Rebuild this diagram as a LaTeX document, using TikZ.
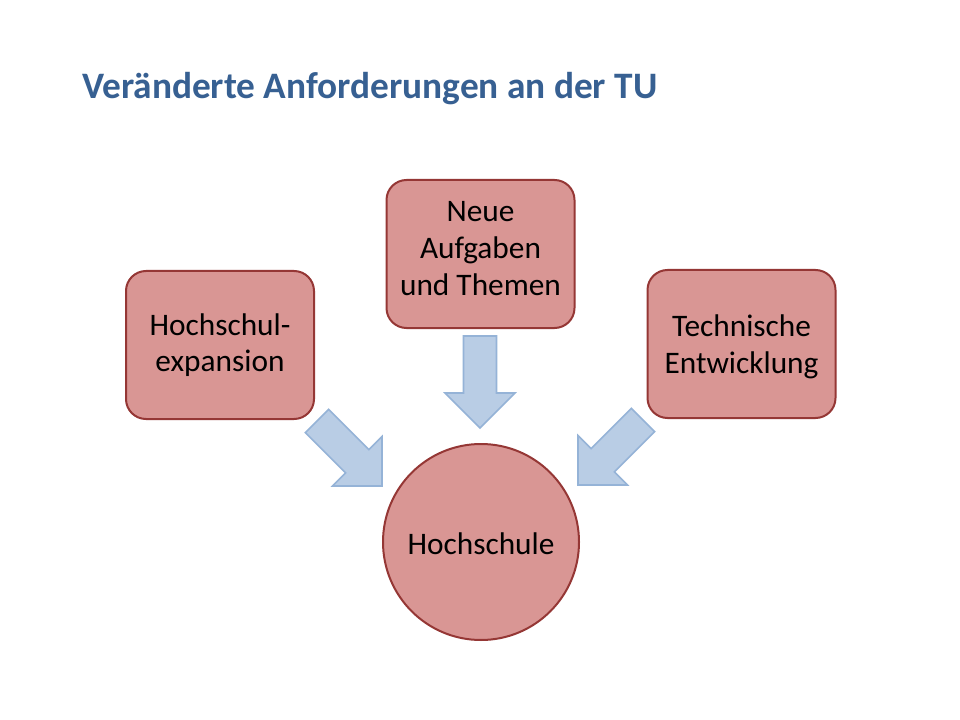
\documentclass[tikz,border=0pt]{standalone}
\usepackage{fontspec}
\setmainfont{Carlito}
\definecolor{boxfill}{RGB}{217,150,148}
\definecolor{boxdraw}{RGB}{149,55,53}
\definecolor{arrfill}{RGB}{185,205,229}
\definecolor{arrdraw}{RGB}{149,179,215}
\definecolor{titlecol}{RGB}{55,96,146}
\begin{document}
\begin{tikzpicture}[x=0.75pt,y=-0.75pt,
  box/.style={draw=boxdraw, fill=boxfill, line width=1.5pt, rounded corners=15pt,
    minimum width=141pt, minimum height=111pt, inner sep=0pt},
  circ/.style={circle, draw=boxdraw, fill=boxfill, line width=1.5pt,
    minimum size=147pt, inner sep=0pt},
  lbl/.style={font=\fontsize{23.5}{27.5}\selectfont, align=center, text=black, inner sep=0pt},
  arrowshape/.style={draw=arrdraw, fill=arrfill, line width=1.2pt, line join=miter},
  blockarrow/.pic={\path[arrowshape] (0,0) -- (-35,35) -- (-35,16.5) -- (-92,16.5)
    -- (-92,-16.5) -- (-35,-16.5) -- (-35,-35) -- cycle;},
  titlestyle/.style={font=\fontsize{28}{32}\selectfont\bfseries, text=titlecol, anchor=base west, inner sep=0pt}
]
\fill[white] (0,0) rectangle (960,720);
\useasboundingbox (0,0) rectangle (960,720);

\node[titlestyle] (title) at (82,99) {Veränderte Anforderungen an der TU};

% boxes
\node[box] (hoch) at (220,345) {};
\node[box] (neue) at (480.5,254) {};
\node[box] (tech) at (741.5,344) {};
\node[circ] (hs) at (481,542) {};

% texts
\node[lbl] (hochT) at (hoch.center) {Hochschul-\\expansion};
\node[lbl] (neueT) at ([yshift=4pt]neue.center) {Neue\\Aufgaben\\und Themen};
\node[lbl] (techT) at ([yshift=-2pt]tech.center) {Technische\\Entwicklung};
\node[lbl] (hsT) at ([yshift=-1pt]hs.center) {Hochschule};

% block arrows
\pic[rotate=-45] (arrL) at (382,486) {blockarrow};
\pic[rotate=-90] (arrM) at (480,428) {blockarrow};
\pic[rotate=-135] (arrR) at (578,485) {blockarrow};
\end{tikzpicture}
\end{document}
